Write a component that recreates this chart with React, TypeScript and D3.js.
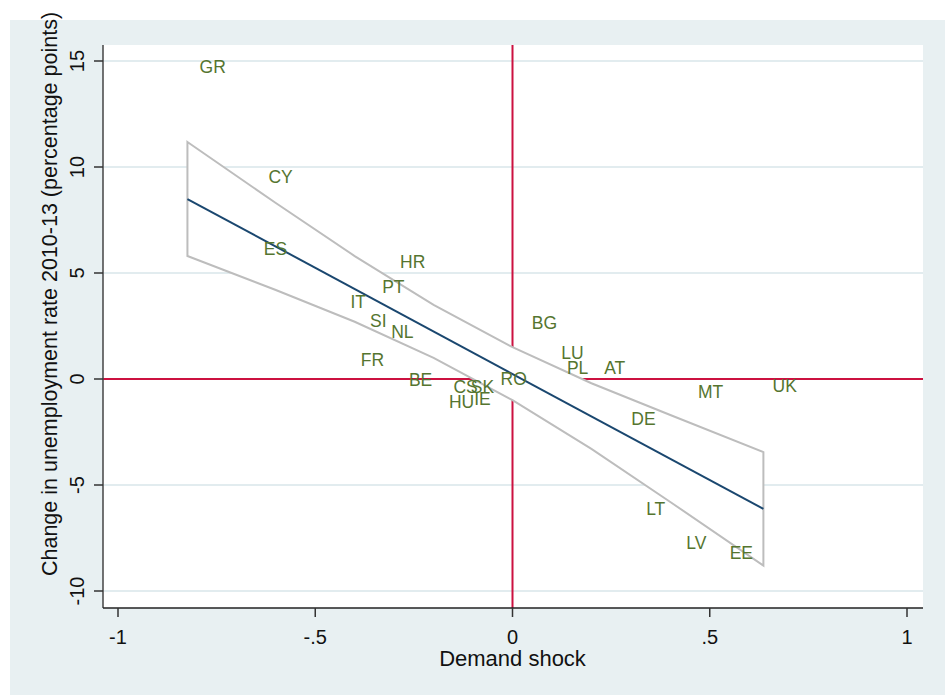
import React, { useEffect, useRef } from 'react'
import * as d3 from 'd3'

// country labels (label positions)
const countries = ['GR', 'CY', 'ES', 'HR', 'PT', 'IT', 'SI', 'NL', 'FR', 'BE', 'CS', 'SK', 'HU', 'IE', 'RO', 'BG', 'LU', 'PL', 'AT', 'MT', 'DE', 'UK', 'LT', 'LV', 'EE']
const demandShock = [-0.76, -0.588, -0.601, -0.253, -0.302, -0.391, -0.34, -0.279, -0.355, -0.233, -0.119, -0.076, -0.129, -0.076, 0.003, 0.081, 0.152, 0.165, 0.259, 0.502, 0.332, 0.69, 0.363, 0.466, 0.58]
const unempChange = [14.72, 9.53, 6.13, 5.52, 4.34, 3.63, 2.74, 2.22, 0.9, -0.05, -0.38, -0.38, -1.08, -0.94, 0.0, 2.64, 1.23, 0.52, 0.52, -0.59, -1.89, -0.33, -6.13, -7.74, -8.21]

// fitted line and 95% confidence band
const fitX = [-0.824, 0.636]
const fitY = [8.49, -6.13]
const bandX = [-0.824, -0.6, -0.4, -0.2, 0, 0.2, 0.4, 0.636]
const bandUpper = [11.18, 8.3, 5.8, 3.5, 1.5, -0.2, -1.7, -3.45]
const bandLower = [5.8, 4.2, 2.7, 1.0, -1.0, -3.3, -5.8, -8.8]

const xTicks = [-1, -0.5, 0, 0.5, 1]
const xTickLabels = ['-1', '-.5', '0', '.5', '1']
const yTicks = [-10, -5, 0, 5, 10, 15]
const yTickLabels = ['-10', '-5', '0', '5', '10', '15']

const font = '"Liberation Sans", Arial, sans-serif'

const ScatterFit: React.FC = () => {
  const svgRef = useRef<SVGSVGElement>(null)

  useEffect(() => {
    if (!svgRef.current) return
    const svg = d3.select(svgRef.current)
    svg.selectAll('*').remove()

    const width = 945
    const height = 695
    const plot = { left: 103, right: 923, top: 45, bottom: 608 }

    const x = d3.scaleLinear().domain([-1, 1]).range([118, 907])
    const y = d3.scaleLinear().domain([-10, 15]).range([591, 61])

    svg.attr('width', width).attr('height', height)
      .style('font-family', font)

    // outer graph region
    svg.append('rect').attr('x', 0).attr('y', 0).attr('width', width).attr('height', height).attr('fill', '#ffffff')
    svg.append('rect').attr('x', 10).attr('y', 20).attr('width', width - 10).attr('height', height - 20).attr('fill', '#e8f0f2')
    svg.append('rect')
      .attr('x', plot.left).attr('y', plot.top)
      .attr('width', plot.right - plot.left).attr('height', plot.bottom - plot.top)
      .attr('fill', '#ffffff')

    // gridlines
    svg.append('g').selectAll('line')
      .data(yTicks.filter(t => t !== 0))
      .enter().append('line')
      .attr('x1', plot.left).attr('x2', plot.right)
      .attr('y1', d => y(d)).attr('y2', d => y(d))
      .attr('stroke', '#e2ecef').attr('stroke-width', 2)

    // reference lines at zero
    svg.append('line')
      .attr('x1', plot.left).attr('x2', plot.right)
      .attr('y1', y(0)).attr('y2', y(0))
      .attr('stroke', '#cc1140').attr('stroke-width', 2)
    svg.append('line')
      .attr('x1', x(0)).attr('x2', x(0))
      .attr('y1', plot.top).attr('y2', plot.bottom)
      .attr('stroke', '#cc1140').attr('stroke-width', 2)

    // confidence band
    const bandPts: [number, number][] = [
      ...bandX.map((v, i) => [x(v), y(bandUpper[i])] as [number, number]),
      ...bandX.map((v, i) => [x(v), y(bandLower[i])] as [number, number]).reverse()
    ]
    svg.append('path')
      .attr('d', d3.line()(bandPts) + 'Z')
      .attr('fill', '#ffffff')
      .attr('stroke', '#bdbdbd')
      .attr('stroke-width', 2)
      .attr('stroke-linejoin', 'miter')

    // fitted line
    const fitLine = d3.line<number>()
      .x(d => x(d))
      .y((d, i) => y(fitY[i]))
    svg.append('path')
      .datum(fitX)
      .attr('d', fitLine)
      .attr('fill', 'none')
      .attr('stroke', '#1a476f')
      .attr('stroke-width', 2)

    // country labels
    svg.append('g').selectAll('text')
      .data(countries)
      .enter().append('text')
      .attr('x', (d, i) => x(demandShock[i]))
      .attr('y', (d, i) => y(unempChange[i]))
      .attr('dy', '0.36em')
      .attr('text-anchor', 'middle')
      .style('font-size', '17.5px')
      .style('fill', '#55752f')
      .text(d => d)

    // axes
    svg.append('line')
      .attr('x1', plot.left).attr('x2', plot.left)
      .attr('y1', plot.top).attr('y2', plot.bottom)
      .attr('stroke', '#444').attr('stroke-width', 1.5)
    svg.append('line')
      .attr('x1', plot.left).attr('x2', plot.right)
      .attr('y1', plot.bottom).attr('y2', plot.bottom)
      .attr('stroke', '#222').attr('stroke-width', 1.5)

    // x ticks
    xTicks.forEach((t, i) => {
      svg.append('line')
        .attr('x1', x(t)).attr('x2', x(t))
        .attr('y1', plot.bottom).attr('y2', plot.bottom + 9)
        .attr('stroke', '#333').attr('stroke-width', 1.5)
      svg.append('text')
        .attr('x', x(t)).attr('y', 644)
        .attr('text-anchor', 'middle')
        .style('font-size', '20px')
        .style('fill', '#111')
        .text(xTickLabels[i])
    })

    // y ticks
    yTicks.forEach((t, i) => {
      svg.append('line')
        .attr('x1', plot.left - 9).attr('x2', plot.left)
        .attr('y1', y(t)).attr('y2', y(t))
        .attr('stroke', '#333').attr('stroke-width', 1.5)
      svg.append('text')
        .attr('transform', `translate(84, ${y(t)}) rotate(-90)`)
        .attr('text-anchor', 'middle')
        .style('font-size', '20px')
        .style('fill', '#111')
        .text(yTickLabels[i])
    })

    // axis titles
    svg.append('text')
      .attr('x', x(0)).attr('y', 666)
      .attr('text-anchor', 'middle')
      .style('font-size', '22px')
      .style('fill', '#111')
      .text('Demand shock')

    svg.append('text')
      .attr('transform', 'translate(57, 294) rotate(-90)')
      .attr('text-anchor', 'middle')
      .style('font-size', '21.5px')
      .style('fill', '#111')
      .text('Change in unemployment rate 2010-13 (percentage points)')
  }, [])

  return (
    <div style={{ position: 'absolute', left: 0, top: 0 }}>
      <svg ref={svgRef} style={{ display: 'block' }}></svg>
    </div>
  )
}

export default function App() {
  return <ScatterFit />
}
